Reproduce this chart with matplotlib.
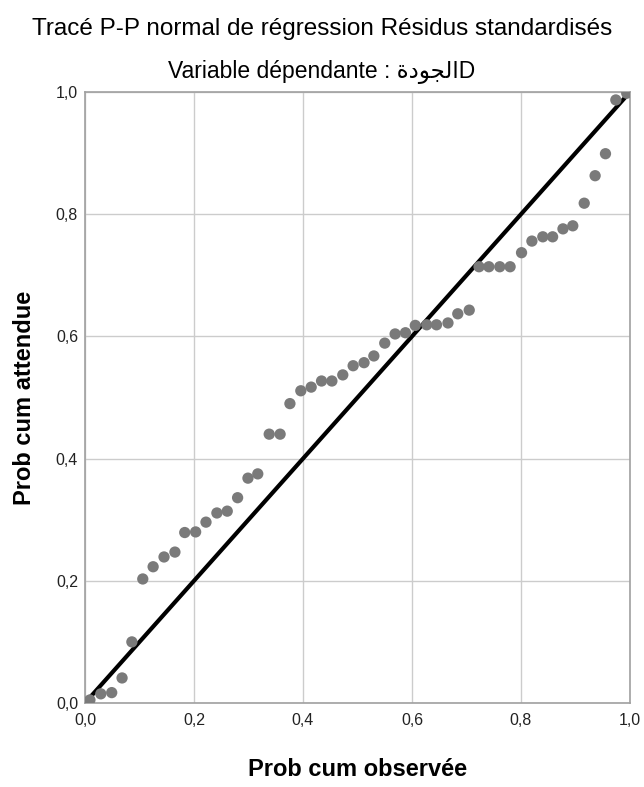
import matplotlib
matplotlib.use("Agg")
import matplotlib.pyplot as plt

plt.rcParams['font.family'] = ['Liberation Sans', 'DejaVu Sans']

prob_obs = [0.009, 0.029, 0.049, 0.068, 0.086, 0.106, 0.125, 0.145, 0.165, 0.183,
            0.203, 0.222, 0.242, 0.261, 0.280, 0.299, 0.317, 0.338, 0.358, 0.376,
            0.396, 0.415, 0.434, 0.453, 0.473, 0.492, 0.512, 0.530, 0.550, 0.569,
            0.588, 0.606, 0.627, 0.645, 0.666, 0.684, 0.705, 0.723, 0.741, 0.761,
            0.780, 0.801, 0.820, 0.840, 0.858, 0.877, 0.895, 0.916, 0.936, 0.955,
            0.974, 0.994]
prob_att = [0.005, 0.015, 0.017, 0.041, 0.100, 0.203, 0.223, 0.239, 0.247, 0.279,
            0.280, 0.296, 0.311, 0.314, 0.336, 0.368, 0.375, 0.440, 0.440, 0.490,
            0.511, 0.517, 0.527, 0.527, 0.537, 0.552, 0.557, 0.568, 0.589, 0.604,
            0.606, 0.618, 0.619, 0.619, 0.622, 0.637, 0.643, 0.714, 0.714, 0.714,
            0.714, 0.737, 0.756, 0.763, 0.763, 0.776, 0.781, 0.818, 0.863, 0.899,
            0.987, 0.998]

ticks = [0.0, 0.2, 0.4, 0.6, 0.8, 1.0]
tick_labels = ['0,0', '0,2', '0,4', '0,6', '0,8', '1,0']

title = 'Tracé P-P normal de régression Résidus standardisés'
# Arabic word "الجودة" written in shaped presentation forms, visual order
subtitle = 'Variable dépendante : \uFE93\uFEA9\uFEEE\uFEA0\uFEDF\uFE8DD'

fig = plt.figure(figsize=(6.44, 7.87), dpi=100)
ax = fig.add_axes([85/644, 1 - 703/787, 545/644, 611/787])

ax.plot([0, 1], [0, 1], color='black', lw=3, zorder=2, solid_capstyle='butt')
ax.scatter(prob_obs, prob_att, s=66, color='#7a7a7a', edgecolors='none', zorder=3)

ax.set_xlim(0, 1)
ax.set_ylim(0, 1)
ax.set_xticks(ticks)
ax.set_yticks(ticks)
ax.set_xticklabels(tick_labels)
ax.set_yticklabels(tick_labels)
ax.tick_params(length=0, labelsize=11.5, pad=5, colors='#222222')
ax.tick_params(axis='x', pad=7)
ax.grid(True, color='#cccccc', lw=1)
ax.set_axisbelow(True)
for sp in ax.spines.values():
    sp.set_color('#a0a0a0')
    sp.set_linewidth(1.2)

ax.set_xlabel('Prob cum observée', fontsize=17, fontweight='bold', labelpad=22)
ax.set_ylabel('Prob cum attendue', fontsize=17, fontweight='bold', labelpad=14)

fig.text(0.5, 1 - 29/787, title, ha='center', va='center', fontsize=17.5)
fig.text(0.5, 1 - 72/787, subtitle, ha='center', va='center', fontsize=16.5)

fig.savefig('out.png', dpi=100)
